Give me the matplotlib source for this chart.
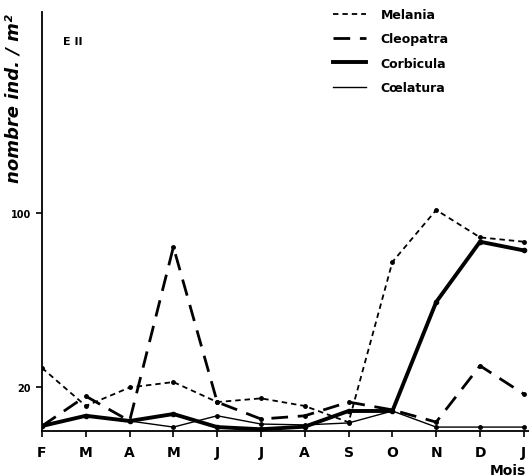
import matplotlib.pyplot as plt
from matplotlib.lines import Line2D

# months (February to January) and densities per species
months = ['F', 'M', 'A', 'M', 'J', 'J', 'A', 'S', 'O', 'N', 'D', 'J']
melania = [29, 11.5, 20, 22.5, 13.3, 15, 11.5, 4, 77.7, 101.6, 89, 87]
cleopatra = [2.3, 16, 4.6, 84.6, 13.3, 5.5, 7, 13.3, 9.7, 4.1, 30, 17]
corbicula = [2.3, 7, 4.6, 7.8, 1.8, 0.8, 2, 9.2, 9.2, 59.3, 87, 83]
coelatura = [2.3, 7, 4.6, 1.8, 7, 3.2, 2.8, 3.7, 9.2, 1.8, 1.8, 1.8]
yticks = [20, 100]

# line style per species
styles = {
    'Melania': dict(lw=1.3, dashes=(3, 2.2)),
    'Cleopatra': dict(lw=2.0, dashes=(6, 3.5)),
    'Corbicula': dict(lw=2.8),
    'Cœlatura': dict(lw=1.0),
}

fig = plt.figure(figsize=(5.29, 4.77), dpi=100)
ax = fig.add_axes([42 / 529, 45 / 477, 1 - 42 / 529, 419 / 477])

x = range(len(months))
for name, vals in zip(styles, [melania, cleopatra, corbicula, coelatura]):
    ax.plot(x, vals, color='black', marker='o',
            ms=3 if name == 'Corbicula' else 2.5, **styles[name])

ax.set_xlim(0, 487 / 43.8)
ax.set_ylim(0, 192.6)

ax.spines['top'].set_visible(False)
ax.spines['right'].set_visible(False)
ax.spines['left'].set_linewidth(1.3)
ax.spines['bottom'].set_linewidth(1.3)

ax.set_xticks(list(x))
ax.set_xticklabels(months, fontsize=10, fontweight='bold')
ax.set_yticks(yticks)
ax.set_yticklabels([str(v) for v in yticks], fontsize=7, fontweight='bold')
ax.tick_params(axis='both', direction='out', length=4, width=1.2, pad=4)
ax.tick_params(axis='x', pad=6)

ax.set_ylabel('nombre ind. / m²', fontsize=13, fontweight='semibold',
              style='italic')
ax.yaxis.set_label_coords(-0.041, 0.795)

fig.text(490 / 529, 1 - 471 / 477, 'Mois', fontsize=10, fontweight='bold',
         va='center', ha='left')
fig.text(63 / 529, 1 - 42 / 477, 'E II', fontsize=8, fontweight='bold',
         va='center', ha='left')

# legend without markers
handles = [Line2D([], [], color='black', **s) for s in styles.values()]
ax.legend(handles, list(styles), loc='upper left',
          bbox_to_anchor=(322 / 529, 1 + 2 / 477),
          bbox_transform=fig.transFigure, frameon=False, handlelength=2.6,
          handletextpad=1.2, labelspacing=0.9,
          prop={'size': 9, 'weight': 'semibold'})

fig.savefig('out.png', dpi=100)
